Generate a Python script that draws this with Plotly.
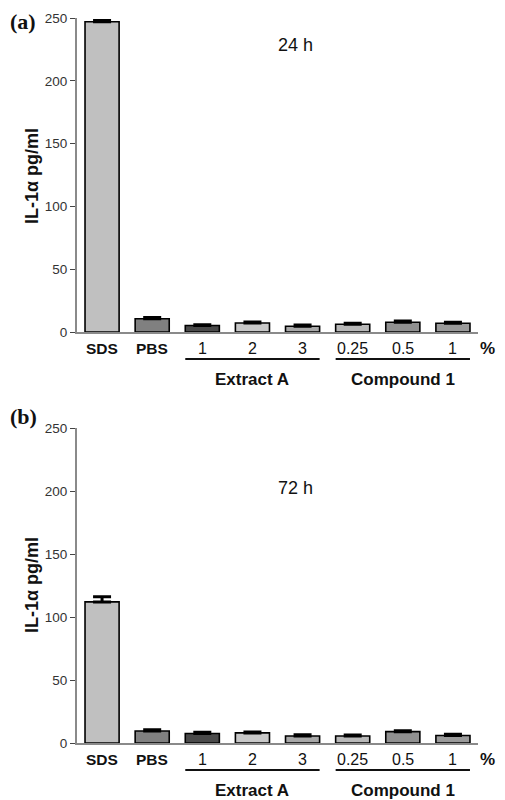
import plotly.graph_objects as go
from plotly.subplots import make_subplots

categories = ["SDS", "PBS", "1", "2", "3", "0.25", "0.5", "1"]
bold_cats = [True, True, False, False, False, False, False, False]
groups = [("Extract A", 2, 4), ("Compound 1", 5, 7)]
colors = ["#c0c0c0", "#808080", "#4a4a4a", "#c8c8c8", "#a8a8a8", "#b8b8b8", "#909090", "#9a9a9a"]

values_24h = [247, 10.5, 5.2, 7.2, 4.6, 6.2, 7.8, 7.0]
errors_24h = [1.0, 1.0, 0.5, 0.8, 1.0, 0.8, 1.0, 0.8]
values_72h = [112, 9.5, 7.5, 8.0, 5.5, 5.5, 9.0, 6.0]
errors_72h = [4.0, 1.0, 1.0, 0.8, 1.0, 0.8, 0.8, 1.0]

yticks = [0, 50, 100, 150, 200, 250]
panel_labels = ["(a)", "(b)"]
time_labels = ["24 h", "72 h"]
ytitle = "IL-1α pg/ml"

W, H = 505, 800
LEFT, RIGHT = 77, 478
TOP, BOT = 18, 743
PH = BOT - TOP
PW = RIGHT - LEFT


def py(p):
    return (BOT - p) / PH


def px(p):
    return (p - LEFT) / PW


fig = make_subplots(rows=2, cols=1, vertical_spacing=0.0)
fig.update_layout(
    yaxis=dict(domain=[py(332), 1.0]),
    yaxis2=dict(domain=[0.0, py(428)]),
)

x_idx = list(range(len(categories)))
for r, (vals, errs) in enumerate([(values_24h, errors_24h), (values_72h, errors_72h)], start=1):
    fig.add_trace(go.Bar(
        x=x_idx, y=vals, width=0.68,
        marker=dict(color=colors, line=dict(color="black", width=1.6)),
        error_y=dict(type="data", array=errs, arrayminus=[0] * len(errs), symmetric=False,
                     color="black", thickness=3, width=9),
        showlegend=False, hoverinfo="skip",
    ), row=r, col=1)

SANS = "Liberation Sans, Arial, sans-serif"
axis_font = dict(family=SANS, size=13.5, color="#333")
for r in (1, 2):
    fig.update_xaxes(range=[-0.5, 7.5], showticklabels=False, ticks="", showline=True,
                     linecolor="#8a8a8a", linewidth=2, showgrid=False, zeroline=False, row=r, col=1)
    fig.update_yaxes(range=[0, 250], tickvals=yticks, ticks="outside", ticklen=5, tickwidth=1.3,
                     tickcolor="#444", showline=True, linecolor="#8a8a8a", linewidth=2,
                     showgrid=False, zeroline=False, tickfont=axis_font, row=r, col=1)

annotations = []
shapes = []
zero_px = [332, 743]
panel_px = [22, 416]
time_px = [45, 488]
title_px = [176, 585]
xrefs = ["x", "x2"]
for i in range(2):
    z = zero_px[i]
    xr = xrefs[i]
    for j, c in enumerate(categories):
        annotations.append(dict(
            x=j, y=py(z + 17), xref=xr, yref="paper", showarrow=False,
            text=f"<b>{c}</b>" if bold_cats[j] else c, yanchor="middle",
            font=dict(family=SANS, size=16 if not bold_cats[j] else 15.5, color="#111")))
    annotations.append(dict(
        x=px(497), y=py(z + 17), xref="paper", yref="paper", showarrow=False, text="<b>%</b>",
        yanchor="middle", font=dict(family=SANS, size=17, color="#111")))
    for name, a, b in groups:
        shapes.append(dict(type="line", xref=xr, yref="paper", x0=a - 0.34, x1=b + 0.34,
                           y0=py(z + 27), y1=py(z + 27), line=dict(color="#111", width=2)))
        annotations.append(dict(
            x=(a + b) / 2, y=py(z + 47), xref=xr, yref="paper", showarrow=False,
            text=f"<b>{name}</b>", yanchor="middle",
            font=dict(family=SANS, size=17, color="#111")))
    annotations.append(dict(
        x=px(8), y=py(panel_px[i]), xref="paper", yref="paper", showarrow=False,
        text=f"<b>{panel_labels[i]}</b>", xanchor="left", yanchor="middle",
        font=dict(family="Liberation Serif, Times New Roman, serif", size=22, color="#111")))
    annotations.append(dict(
        x=px(295), y=py(time_px[i]), xref="paper", yref="paper", showarrow=False,
        text=time_labels[i], yanchor="middle",
        font=dict(family=SANS, size=18, color="#111")))
    annotations.append(dict(
        x=px(32), y=py(title_px[i]), xref="paper", yref="paper", showarrow=False,
        text=f"<b>{ytitle}</b>", textangle=-90, xanchor="center", yanchor="middle",
        font=dict(family=SANS, size=18, color="#111")))

fig.update_layout(
    width=W, height=H,
    margin=dict(l=LEFT, r=W - RIGHT, t=TOP, b=H - BOT),
    paper_bgcolor="white", plot_bgcolor="white",
    annotations=annotations, shapes=shapes,
    hovermode=False,
)

fig.write_html("out.html", config={"displayModeBar": False},
               post_script="document.body.style.margin='0';")
